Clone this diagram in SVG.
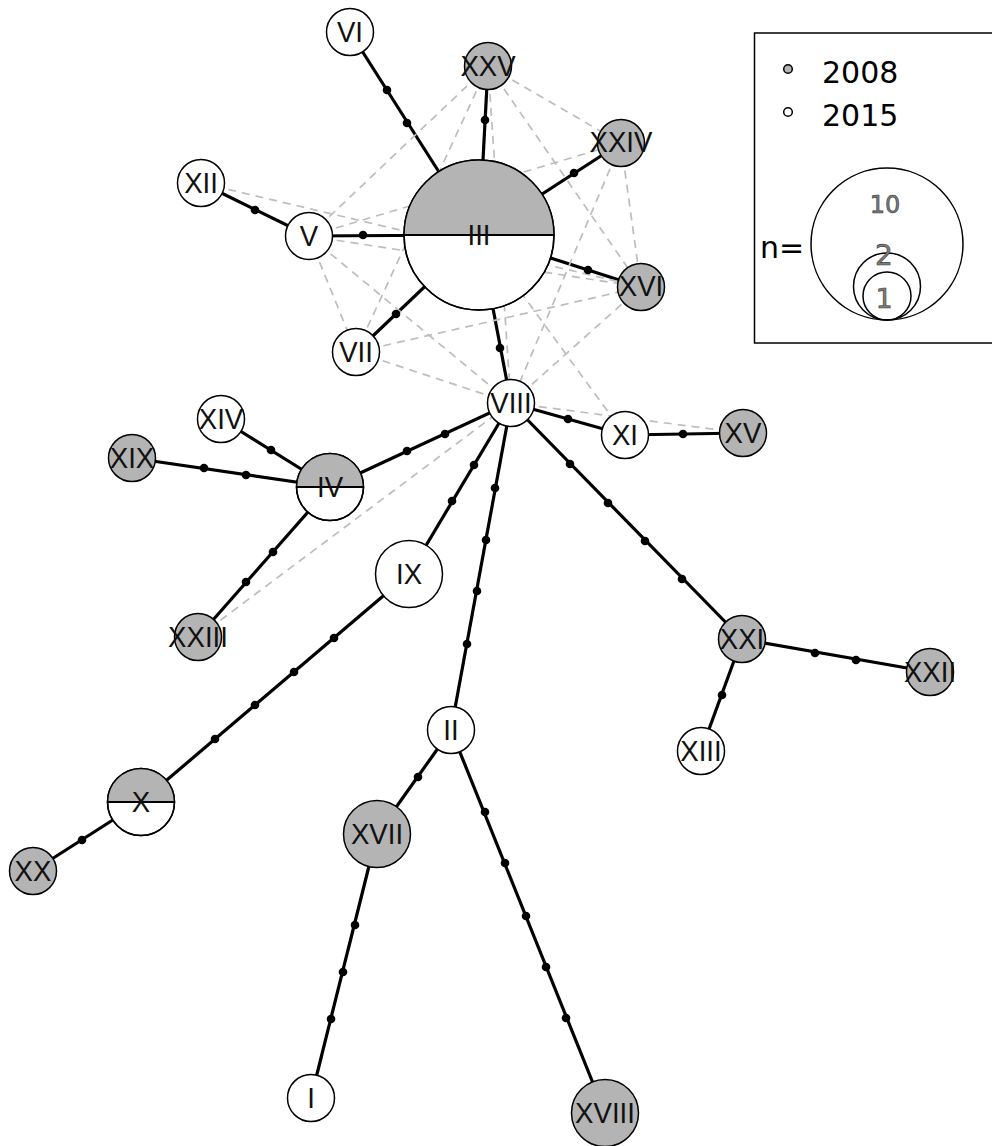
<svg xmlns="http://www.w3.org/2000/svg" width="992" height="1146" viewBox="0 0 992 1146">
<style>
.e{stroke:#000;stroke-width:3.2;fill:none}
.d{stroke:#bdbdbd;stroke-width:1.7;stroke-dasharray:8 6;fill:none}
.m{fill:#000}
.w{fill:#fff;stroke:#000;stroke-width:1.5}
.g{fill:#b4b4b4;stroke:#000;stroke-width:1.5}
.gf{fill:#b4b4b4}
.hl{stroke:#000;stroke-width:1.8}
.o{fill:none;stroke:#000;stroke-width:1.5}
.t{font-family:"Liberation Sans",Arial,sans-serif;font-size:30px;fill:#111;text-anchor:middle}
.lg{font-family:"DejaVu Sans",sans-serif;font-size:30px;fill:#000}
.ln{font-family:"DejaVu Sans",sans-serif;fill:#7a7a7a;stroke:#3a3a3a;stroke-width:0.6;text-anchor:middle}
</style>
<rect width="992" height="1146" fill="#fff"/>
<g id="connectors">
<g id="edges">
<line class="e" x1="350" y1="32" x2="479" y2="235"/>
<line class="e" x1="488" y1="66" x2="479" y2="235"/>
<line class="e" x1="621" y1="143" x2="479" y2="235"/>
<line class="e" x1="201" y1="183" x2="309" y2="236"/>
<line class="e" x1="309" y1="236" x2="479" y2="235"/>
<line class="e" x1="641" y1="287" x2="479" y2="235"/>
<line class="e" x1="356" y1="352" x2="479" y2="235"/>
<line class="e" x1="511" y1="403" x2="479" y2="235"/>
<line class="e" x1="511" y1="403" x2="625" y2="435"/>
<line class="e" x1="625" y1="435" x2="743" y2="433"/>
<line class="e" x1="511" y1="403" x2="742" y2="639"/>
<line class="e" x1="742" y1="639" x2="930" y2="672"/>
<line class="e" x1="742" y1="639" x2="701" y2="751"/>
<line class="e" x1="511" y1="403" x2="451" y2="730"/>
<line class="e" x1="451" y1="730" x2="377" y2="834"/>
<line class="e" x1="377" y1="834" x2="311" y2="1098"/>
<line class="e" x1="451" y1="730" x2="605" y2="1113"/>
<line class="e" x1="511" y1="403" x2="409" y2="574"/>
<line class="e" x1="409" y1="574" x2="141" y2="802"/>
<line class="e" x1="141" y1="802" x2="33" y2="871"/>
<line class="e" x1="511" y1="403" x2="330" y2="487"/>
<line class="e" x1="330" y1="487" x2="221" y2="419"/>
<line class="e" x1="330" y1="487" x2="132" y2="458"/>
<line class="e" x1="330" y1="487" x2="198" y2="637"/>
</g>
<g id="alt-links">
<line class="d" x1="309" y1="236" x2="488" y2="66"/>
<line class="d" x1="309" y1="236" x2="621" y2="143"/>
<line class="d" x1="309" y1="236" x2="641" y2="287"/>
<line class="d" x1="309" y1="236" x2="356" y2="352"/>
<line class="d" x1="309" y1="236" x2="511" y2="403"/>
<line class="d" x1="201" y1="183" x2="641" y2="287"/>
<line class="d" x1="488" y1="66" x2="356" y2="352"/>
<line class="d" x1="488" y1="66" x2="511" y2="403"/>
<line class="d" x1="488" y1="66" x2="641" y2="287"/>
<line class="d" x1="488" y1="66" x2="621" y2="143"/>
<line class="d" x1="621" y1="143" x2="511" y2="403"/>
<line class="d" x1="621" y1="143" x2="641" y2="287"/>
<line class="d" x1="356" y1="352" x2="641" y2="287"/>
<line class="d" x1="356" y1="352" x2="511" y2="403"/>
<line class="d" x1="511" y1="403" x2="641" y2="287"/>
<line class="d" x1="511" y1="403" x2="743" y2="433"/>
<line class="d" x1="479" y1="235" x2="625" y2="435"/>
<line class="d" x1="198" y1="637" x2="511" y2="403"/>
</g>
<g id="mutations">
<circle class="m" cx="387" cy="90" r="4.3"/>
<circle class="m" cx="407" cy="123" r="4.3"/>
<circle class="m" cx="485" cy="120" r="4.3"/>
<circle class="m" cx="574" cy="173" r="4.3"/>
<circle class="m" cx="255" cy="210" r="4.3"/>
<circle class="m" cx="363" cy="235" r="4.3"/>
<circle class="m" cx="588" cy="270" r="4.3"/>
<circle class="m" cx="396" cy="314" r="4.3"/>
<circle class="m" cx="500" cy="348" r="4.3"/>
<circle class="m" cx="568" cy="419" r="4.3"/>
<circle class="m" cx="683" cy="434" r="4.3"/>
<circle class="m" cx="570" cy="464" r="4.3"/>
<circle class="m" cx="608" cy="503" r="4.3"/>
<circle class="m" cx="645" cy="541" r="4.3"/>
<circle class="m" cx="682" cy="579" r="4.3"/>
<circle class="m" cx="815" cy="653" r="4.3"/>
<circle class="m" cx="856" cy="660" r="4.3"/>
<circle class="m" cx="722" cy="695" r="4.3"/>
<circle class="m" cx="495" cy="488" r="4.3"/>
<circle class="m" cx="486" cy="540" r="4.3"/>
<circle class="m" cx="477" cy="591" r="4.3"/>
<circle class="m" cx="467" cy="644" r="4.3"/>
<circle class="m" cx="418" cy="777" r="4.3"/>
<circle class="m" cx="355" cy="925" r="4.3"/>
<circle class="m" cx="343" cy="972" r="4.3"/>
<circle class="m" cx="331" cy="1019" r="4.3"/>
<circle class="m" cx="485" cy="812" r="4.3"/>
<circle class="m" cx="505" cy="863" r="4.3"/>
<circle class="m" cx="526" cy="916" r="4.3"/>
<circle class="m" cx="546" cy="967" r="4.3"/>
<circle class="m" cx="566" cy="1018" r="4.3"/>
<circle class="m" cx="474" cy="465" r="4.3"/>
<circle class="m" cx="452" cy="501" r="4.3"/>
<circle class="m" cx="334" cy="638" r="4.3"/>
<circle class="m" cx="294" cy="672" r="4.3"/>
<circle class="m" cx="255" cy="705" r="4.3"/>
<circle class="m" cx="215" cy="739" r="4.3"/>
<circle class="m" cx="82" cy="840" r="4.3"/>
<circle class="m" cx="445" cy="434" r="4.3"/>
<circle class="m" cx="407" cy="451" r="4.3"/>
<circle class="m" cx="271" cy="450" r="4.3"/>
<circle class="m" cx="204" cy="468" r="4.3"/>
<circle class="m" cx="246" cy="475" r="4.3"/>
<circle class="m" cx="273" cy="552" r="4.3"/>
<circle class="m" cx="246" cy="582" r="4.3"/>
</g>
</g>
<g id="n-III"><circle class="w" cx="479" cy="235" r="75"/><path class="gf" d="M404 235 A75 75 0 0 1 554 235 Z"/><circle class="o" cx="479" cy="235" r="75"/><line class="hl" x1="404" y1="235" x2="554" y2="235"/><text class="t" transform="translate(479,245) scale(0.92,1)" font-size="27">III</text></g>
<g id="n-VI"><circle class="w" cx="350" cy="32" r="23.5"/><text class="t" transform="translate(350,42) scale(0.92,1)">VI</text></g>
<g id="n-XXV"><circle class="g" cx="488" cy="66" r="23.5"/><text class="t" transform="translate(488,76) scale(0.92,1)">XXV</text></g>
<g id="n-XXIV"><circle class="g" cx="621" cy="143" r="23.5"/><text class="t" transform="translate(621,152) scale(0.92,1)">XXIV</text></g>
<g id="n-XII"><circle class="w" cx="201" cy="183" r="23.5"/><text class="t" transform="translate(201,193) scale(0.92,1)">XII</text></g>
<g id="n-V"><circle class="w" cx="309" cy="236" r="23.5"/><text class="t" transform="translate(309,246) scale(0.92,1)">V</text></g>
<g id="n-XVI"><circle class="g" cx="641" cy="287" r="23.5"/><text class="t" transform="translate(641,296) scale(0.92,1)">XVI</text></g>
<g id="n-VII"><circle class="w" cx="356" cy="352" r="23.5"/><text class="t" transform="translate(356,362) scale(0.92,1)">VII</text></g>
<g id="n-VIII"><circle class="w" cx="511" cy="403" r="23.5"/><text class="t" transform="translate(511,413) scale(0.92,1)">VIII</text></g>
<g id="n-XI"><circle class="w" cx="625" cy="435" r="23.5"/><text class="t" transform="translate(625,445) scale(0.92,1)">XI</text></g>
<g id="n-XV"><circle class="g" cx="743" cy="433" r="23.5"/><text class="t" transform="translate(743,443) scale(0.92,1)">XV</text></g>
<g id="n-XIV"><circle class="w" cx="221" cy="419" r="23.5"/><text class="t" transform="translate(221,429) scale(0.92,1)">XIV</text></g>
<g id="n-XIX"><circle class="g" cx="132" cy="458" r="23.5"/><text class="t" transform="translate(132,468) scale(0.92,1)">XIX</text></g>
<g id="n-IV"><circle class="w" cx="330" cy="487" r="33.5"/><path class="gf" d="M296.5 487 A33.5 33.5 0 0 1 363.5 487 Z"/><circle class="o" cx="330" cy="487" r="33.5"/><line class="hl" x1="296.5" y1="487" x2="363.5" y2="487"/><text class="t" transform="translate(330,497) scale(0.92,1)">IV</text></g>
<g id="n-XXIII"><circle class="g" cx="198" cy="637" r="23.5"/><text class="t" transform="translate(198,647) scale(0.92,1)">XXIII</text></g>
<g id="n-IX"><circle class="w" cx="409" cy="574" r="33.5"/><text class="t" transform="translate(409,584) scale(0.92,1)">IX</text></g>
<g id="n-XXI"><circle class="g" cx="742" cy="639" r="23.5"/><text class="t" transform="translate(742,649) scale(0.92,1)">XXI</text></g>
<g id="n-XXII"><circle class="g" cx="930" cy="672" r="23.5"/><text class="t" transform="translate(930,682) scale(0.92,1)">XXII</text></g>
<g id="n-XIII"><circle class="w" cx="701" cy="751" r="23.5"/><text class="t" transform="translate(701,761) scale(0.92,1)">XIII</text></g>
<g id="n-II"><circle class="w" cx="451" cy="730" r="23.5"/><text class="t" transform="translate(451,740) scale(0.92,1)">II</text></g>
<g id="n-XVII"><circle class="g" cx="377" cy="834" r="33.5"/><text class="t" transform="translate(377,844) scale(0.92,1)">XVII</text></g>
<g id="n-X"><circle class="w" cx="141" cy="802" r="33.5"/><path class="gf" d="M107.5 802 A33.5 33.5 0 0 1 174.5 802 Z"/><circle class="o" cx="141" cy="802" r="33.5"/><line class="hl" x1="107.5" y1="802" x2="174.5" y2="802"/><text class="t" transform="translate(141,812) scale(0.92,1)">X</text></g>
<g id="n-XX"><circle class="g" cx="33" cy="871" r="23.5"/><text class="t" transform="translate(33,881) scale(0.92,1)">XX</text></g>
<g id="n-I"><circle class="w" cx="311" cy="1098" r="23.5"/><text class="t" transform="translate(311,1108) scale(0.92,1)">I</text></g>
<g id="n-XVIII"><circle class="g" cx="605" cy="1113" r="33.5"/><text class="t" transform="translate(605,1123) scale(0.92,1)">XVIII</text></g>
<g id="legend">
<rect x="754.5" y="33" width="260" height="310" fill="none" stroke="#000" stroke-width="1.5"/>
<circle class="g" cx="788" cy="69" r="4.3" stroke-width="1.2"/>
<text class="lg" x="822" y="83">2008</text>
<circle class="w" cx="788" cy="112" r="4.3" stroke-width="1.2"/>
<text class="lg" x="822" y="126">2015</text>
<text class="lg" x="760" y="258">n=</text>
<circle class="o" cx="887" cy="244" r="76" stroke-width="1.2"/>
<circle class="o" cx="887" cy="286.5" r="33.5" stroke-width="1.2"/>
<circle class="o" cx="887" cy="296" r="24" stroke-width="1.2"/>
<text class="ln" x="885" y="213" font-size="24">10</text>
<text class="ln" x="884" y="265" font-size="28">2</text>
<text class="ln" x="884" y="308" font-size="27">1</text>
</g>
</svg>
